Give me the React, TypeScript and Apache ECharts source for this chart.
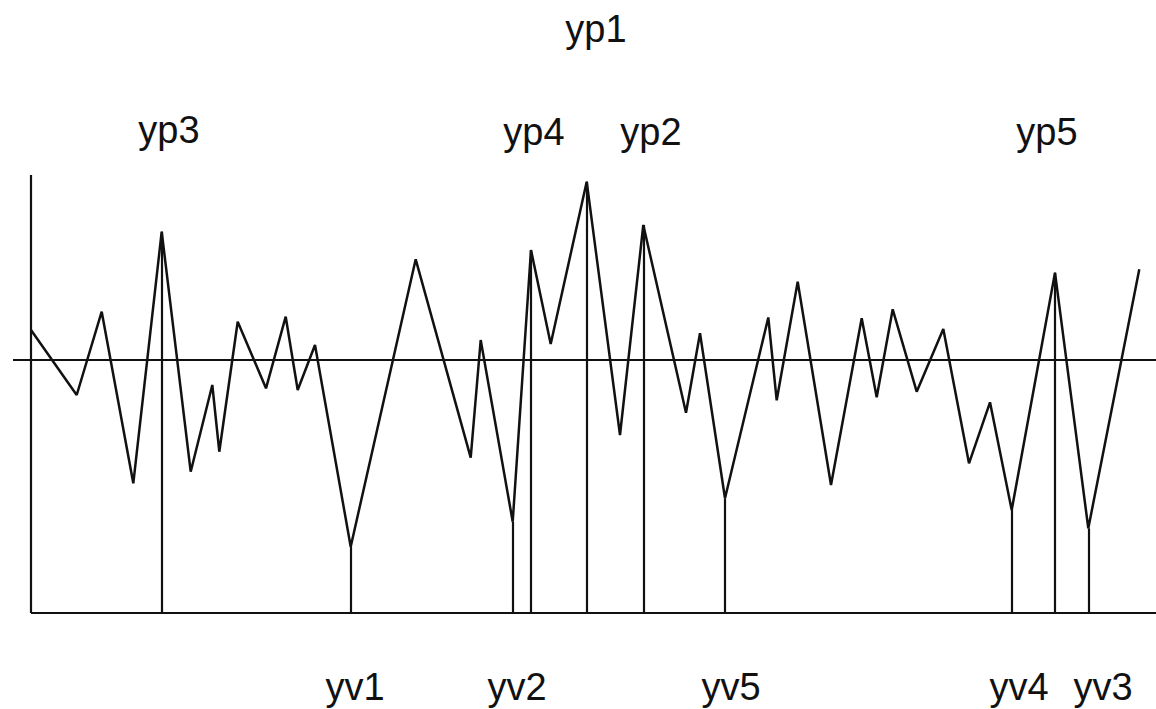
import React, { useEffect, useRef } from "react";
import * as echarts from "echarts";

// Signal vertices [x, y] (y = 0 is the mean level)
const signalX = [0, 4.57, 7.07, 10.23, 13.07, 15.97, 18.13, 18.83, 20.67, 23.5, 25.47, 26.67, 28.4, 31.97, 38.47, 43.97, 44.97, 48.17, 50.0, 51.97, 55.57, 58.9, 61.23, 65.5, 66.9, 69.4, 73.73, 74.57, 76.67, 80.0, 83.07, 84.57, 86.17, 88.57, 91.23, 93.8, 95.9, 98.07, 102.4, 105.73, 110.83];
const signalY = [3.0, -3.5, 4.83, -12.33, 12.83, -11.17, -2.5, -9.17, 3.83, -2.83, 4.33, -3.0, 1.5, -18.67, 10.07, -9.77, 2.0, -16.17, 11.0, 1.6, 17.83, -7.5, 13.5, -5.27, 2.67, -13.83, 4.25, -4.03, 7.83, -12.5, 4.17, -3.73, 5.07, -3.17, 3.1, -10.33, -4.23, -15.0, 8.73, -16.83, 9.07];

// Marked extremes: vertex index in the signal
const extremeNames = ["yp1", "yp2", "yp3", "yp4", "yp5", "yv1", "yv2", "yv3", "yv4", "yv5"];
const extremeIdx = [20, 22, 4, 18, 38, 13, 17, 39, 37, 25];

// Label anchor positions
const labelX = [56.5, 62.0, 13.8, 50.3, 101.6, 32.4, 48.6, 107.2, 98.8, 70.0];
const labelY = [33.1, 22.8, 23.0, 22.8, 22.8, -32.7, -32.7, -32.7, -32.7, -32.7];

const baseLevel = -25.3;
const meanLevel = 0;
const axisTop = 18.5;
const xStart = 0;
const xEnd = 112.5;
const meanStart = -1.8;

export default function App() {
  const ref = useRef<HTMLDivElement>(null);
  useEffect(() => {
    if (!ref.current) return;
    const chart = echarts.init(ref.current, null, { renderer: "svg" });
    const ink = "#111111";
    const signal = signalX.map((x, i) => [x, signalY[i]]);
    const drops = extremeIdx.map((idx) => [
      { coord: [signalX[idx], signalY[idx]] },
      { coord: [signalX[idx], baseLevel] },
    ]);
    const frame = [
      [{ coord: [xStart, baseLevel] }, { coord: [xStart, axisTop] }],
      [{ coord: [xStart, baseLevel] }, { coord: [xEnd, baseLevel] }],
      [{ coord: [meanStart, meanLevel] }, { coord: [xEnd, meanLevel] }],
    ];
    chart.setOption({
      animation: false,
      backgroundColor: "#ffffff",
      grid: { left: 0, right: 0, top: 0, bottom: 0 },
      xAxis: { type: "value", min: -3.1, max: 112.5, show: false },
      yAxis: { type: "value", min: -34.9, max: 36, show: false },
      series: [
        {
          type: "line",
          data: signal,
          symbol: "none",
          lineStyle: { color: ink, width: 2.5 },
          z: 3,
        },
        {
          type: "line",
          data: [],
          symbol: "none",
          markLine: {
            silent: true,
            symbol: ["none", "none"],
            label: { show: false },
            lineStyle: { color: ink, width: 2.2, type: "solid" },
            data: [...frame, ...drops],
          },
          z: 2,
        },
        {
          type: "scatter",
          symbol: "circle",
          symbolSize: 0,
          itemStyle: { color: ink, opacity: 1 },
          data: extremeNames.map((n, i) => ({ name: n, value: [labelX[i], labelY[i]] })),
          label: {
            show: true,
            position: "inside",
            formatter: "{b}",
            color: ink,
            opacity: 1,
            fontSize: 38,
            fontFamily: "'Liberation Sans', Arial, sans-serif",
          },
          silent: true,
        },
      ],
    });
    return () => chart.dispose();
  }, []);
  return (
    <div
      ref={ref}
      style={{ position: "absolute", left: 0, top: 0, width: 1156, height: 709 }}
    />
  );
}
